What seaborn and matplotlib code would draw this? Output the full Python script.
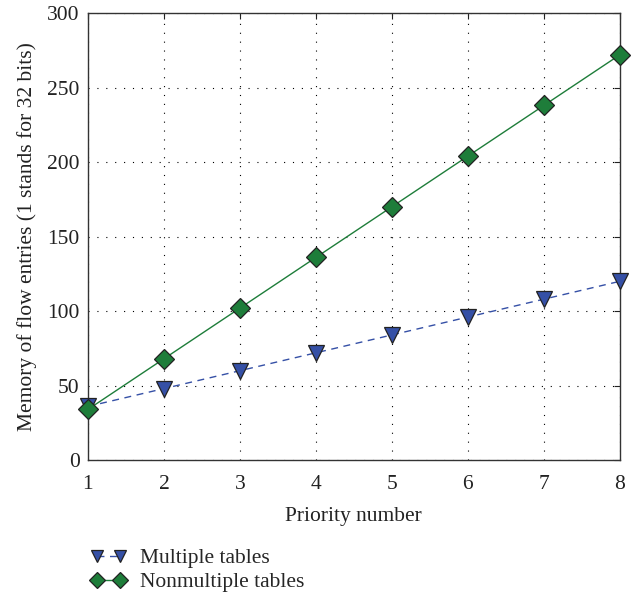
import matplotlib
matplotlib.use("Agg")
import matplotlib.pyplot as plt
import seaborn as sns
import pandas as pd

priority = [1, 2, 3, 4, 5, 6, 7, 8]
multiple_tables = [36, 48, 60, 72, 84, 96, 108, 120]
nonmultiple_tables = [34, 68, 102, 136, 170, 204, 238, 272]

sns.set_theme(style="white")
plt.rcParams["font.family"] = ["Liberation Serif", "DejaVu Serif"]

df_multi = pd.DataFrame({"priority": priority, "memory": multiple_tables})
df_non = pd.DataFrame({"priority": priority, "memory": nonmultiple_tables})

fig = plt.figure(figsize=(6.37, 5.96), dpi=100)
ax = fig.add_axes([0.138, 0.228, 0.835, 0.75])

blue = "#3550a6"
green = "#1e7d3a"
fs = 15.5

sns.lineplot(data=df_multi, x="priority", y="memory", ax=ax, color=blue,
             linestyle=(0, (5, 4)), linewidth=1.0, marker="v", markersize=11.5,
             markerfacecolor=blue, markeredgecolor="#222222", markeredgewidth=0.9,
             label="Multiple tables", clip_on=False, zorder=3)
sns.lineplot(data=df_non, x="priority", y="memory", ax=ax, color=green,
             linestyle="-", linewidth=1.0, marker="D", markersize=10,
             markerfacecolor=green, markeredgecolor="#222222", markeredgewidth=0.9,
             label="Nonmultiple tables", clip_on=False, zorder=4)

ax.set_xlim(1, 8)
ax.set_ylim(0, 300)
ax.set_xticks(priority)
ax.set_yticks([0, 50, 100, 150, 200, 250, 300])
ax.grid(True, color="black", linestyle=(0, (1, 7)), linewidth=0.8)
ax.tick_params(direction="in", length=4, width=0.8, top=True, right=True,
               labelsize=fs, colors="#222222")
ax.tick_params(axis="x", pad=11)
ax.tick_params(axis="y", pad=6)
for s in ax.spines.values():
    s.set_color("#333333")
    s.set_linewidth(1.0)

ax.set_xlabel("Priority number", fontsize=fs, color="#222222", labelpad=9)
ax.set_ylabel("Memory of flow entries (1 stands for 32 bits)", fontsize=fs,
              color="#222222", labelpad=7)

handles, labels = ax.get_legend_handles_labels()
ax.get_legend().remove()
fig.legend(handles, labels, loc="upper left", bbox_to_anchor=(0.128, 0.095),
           frameon=False, fontsize=fs, numpoints=2, handlelength=1.7,
           handletextpad=0.6, labelspacing=0.2, borderaxespad=0,
           markerscale=0.8)

fig.savefig("out.png", dpi=100, facecolor="white")
